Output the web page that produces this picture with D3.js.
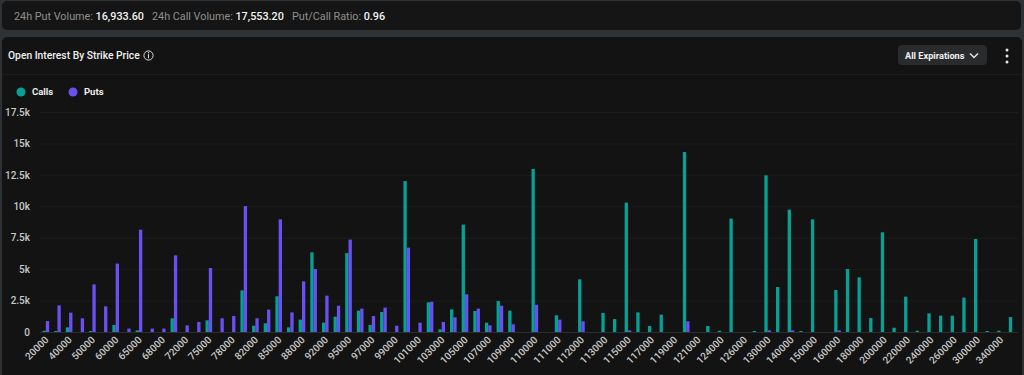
<!DOCTYPE html>
<html>
<head>
<meta charset="utf-8">
<script src="https://cdn.jsdelivr.net/npm/d3@7"></script>
<style>
  body { margin: 0; background: #2f3234; font-family: Roboto, "Open Sans", sans-serif; overflow: hidden; }
  svg text { font-family: Roboto, "Open Sans", sans-serif; }
</style>
</head>
<body>
<svg width="1024" height="375"></svg>
<script>
// strike prices (categories); only every other one gets a label on the axis
let strikes = [20000, 30000, 40000, 45000, 50000, 55000, 60000, 62000, 65000, 66000,
    68000, 70000, 72000, 74000, 75000, 76000, 78000, 80000, 82000, 84000,
    85000, 86000, 88000, 90000, 92000, 94000, 95000, 96000, 97000, 98000,
    99000, 100000, 101000, 102000, 103000, 104000, 105000, 106000, 107000, 108000,
    109000, 109500, 110000, 110500, 111000, 111500, 112000, 112500, 113000, 114000,
    115000, 116000, 117000, 118000, 119000, 120000, 121000, 122000, 124000, 125000,
    126000, 128000, 130000, 135000, 140000, 145000, 150000, 155000, 160000, 170000,
    180000, 190000, 200000, 210000, 220000, 230000, 240000, 250000, 260000, 280000,
    300000, 320000, 340000, 400000];

let calls = [100, 80, 370, 0, 80, 0, 560, 0, 130, 0,
    0, 1090, 0, 0, 930, 0, 0, 3310, 500, 690,
    2840, 370, 980, 6340, 740, 1220, 6280, 1700, 560, 1590,
    0, 12010, 0, 2360, 210, 1800, 8540, 1670, 740, 2470,
    1700, 0, 12970, 0, 1330, 0, 4190, 0, 1510, 1030,
    10290, 1560, 480, 1380, 0, 14320, 0, 480, 100, 9020,
    0, 80, 12460, 3580, 9730, 80, 8960, 0, 3340, 5010,
    4350, 1110, 7930, 340, 2810, 100, 1480, 1300, 1300, 2730,
    7400, 80, 100, 1190];

let puts = [870, 2120, 1540, 1090, 3790, 2040, 5440, 270, 8140, 270,
    270, 6100, 530, 800, 5090, 1090, 1270, 10020, 1090, 1780,
    8960, 1560, 4030, 5010, 2890, 2090, 7350, 1860, 1270, 1940,
    500, 6710, 740, 2410, 800, 1170, 3000, 1860, 530, 2090,
    610, 0, 2170, 0, 980, 0, 850, 0, 0, 0,
    130, 0, 0, 0, 0, 850, 0, 0, 0, 0,
    0, 0, 130, 0, 130, 0, 0, 0, 130, 0,
    0, 0, 0, 0, 0, 0, 0, 0, 0, 0,
    0, 0, 0, 0];

let yTicks = [0, 2500, 5000, 7500, 10000, 12500, 15000, 17500];
let yTickLabels = ["0", "2.5k", "5k", "7.5k", "10k", "12.5k", "15k", "17.5k"];

let series = ["Calls", "Puts"];
let colors = {Calls: "#06a096", Puts: "#6b4ff2"};

let stats = [
    {label: "24h Put Volume:", value: "16,933.60"},
    {label: "24h Call Volume:", value: "17,553.20"},
    {label: "Put/Call Ratio:", value: "0.96"}
];
let statX = [14, 152, 292];

let svg = d3.select("svg");

// panels
svg.append("rect")
    .attr("x", 2).attr("y", 1).attr("width", 1019).attr("height", 29)
    .attr("rx", 5).attr("fill", "#151515");
svg.append("rect")
    .attr("x", 2).attr("y", 37).attr("width", 1020).attr("height", 345)
    .attr("rx", 5).attr("fill", "#131313");
svg.append("line")
    .attr("x1", 2).attr("x2", 1022).attr("y1", 74.5).attr("y2", 74.5)
    .attr("stroke", "#1d1d1d");

// top stats line
stats.forEach((s, i) => {
    let t = svg.append("text")
        .attr("x", statX[i]).attr("y", 20)
        .attr("font-size", 10.8);
    t.append("tspan")
        .attr("fill", "#8f8f8f")
        .text(s.label + " ");
    t.append("tspan")
        .attr("fill", "#f2f2f2")
        .attr("font-weight", 500)
        .text(s.value);
});

// header
svg.append("text")
    .attr("x", 8).attr("y", 59)
    .attr("font-size", 10.3).attr("font-weight", 500)
    .attr("fill", "#f0f0f0")
    .text("Open Interest By Strike Price");
svg.append("circle")
    .attr("cx", 148.5).attr("cy", 55.5).attr("r", 4.6)
    .attr("fill", "none").attr("stroke", "#d8d8d8").attr("stroke-width", 1);
svg.append("line")
    .attr("x1", 148.5).attr("x2", 148.5).attr("y1", 54.2).attr("y2", 58.3)
    .attr("stroke", "#d8d8d8").attr("stroke-width", 1.1);
svg.append("circle")
    .attr("cx", 148.5).attr("cy", 52.8).attr("r", 0.7).attr("fill", "#d8d8d8");

// expirations button
let btn = svg.append("g").attr("transform", "translate(898,45)");
btn.append("rect")
    .attr("width", 89).attr("height", 20).attr("rx", 4)
    .attr("fill", "#2a2b2d");
btn.append("text")
    .attr("x", 7).attr("y", 13.8)
    .attr("font-size", 9.2).attr("font-weight", 700)
    .attr("fill", "#f0f0f0")
    .text("All Expirations");
btn.append("path")
    .attr("d", "M72,8.5 L76,12.5 L80,8.5")
    .attr("fill", "none").attr("stroke", "#e6e6e6").attr("stroke-width", 1.5);
[50, 56, 62].forEach(cy => {
    svg.append("circle").attr("cx", 1007).attr("cy", cy).attr("r", 1.5).attr("fill", "#e6e6e6");
});

// legend
let legend = svg.append("g").attr("transform", "translate(21,92)");
series.forEach((s, i) => {
    let item = legend.append("g").attr("transform", "translate(" + (i * 52) + ",0)");
    item.append("circle").attr("r", 4.5).attr("fill", colors[s]);
    item.append("text")
        .attr("x", 11).attr("dy", "0.35em")
        .attr("font-size", 9.5).attr("font-weight", 700)
        .attr("fill", "#eeeeee")
        .text(s);
});

// chart
let plotLeft = 40, plotRight = 1018, plotTop = 112, plotBottom = 332;

let x = d3.scaleBand()
    .domain(strikes)
    .range([plotLeft, plotRight])
    .paddingInner(0.43)
    .paddingOuter(0.215);

let xSub = d3.scaleBand()
    .domain(series)
    .range([0, x.bandwidth()]);

let y = d3.scaleLinear()
    .domain([0, 17500])
    .range([plotBottom, plotTop]);

let yAxis = d3.axisLeft(y)
    .tickValues(yTicks)
    .tickFormat((d, i) => yTickLabels[i])
    .tickSize(-(plotRight - plotLeft))
    .tickPadding(10);

let gY = svg.append("g")
    .attr("transform", "translate(" + plotLeft + ",0)")
    .call(yAxis);
gY.select(".domain").remove();
gY.selectAll("line").attr("stroke", "#1c1d1d");
gY.selectAll("text")
    .attr("font-size", 10).attr("font-weight", 500)
    .attr("fill", "#c9c9c9");

let groups = svg.append("g")
    .selectAll("g")
    .data(strikes)
    .enter().append("g")
    .attr("transform", d => "translate(" + x(d) + ",0)");

groups.selectAll("rect")
    .data((d, i) => [{key: "Calls", value: calls[i]}, {key: "Puts", value: puts[i]}].filter(b => b.value > 0))
    .enter().append("rect")
    .attr("x", d => xSub(d.key))
    .attr("width", xSub.bandwidth())
    .attr("y", d => Math.min(y(d.value), plotBottom - 1))
    .attr("height", d => Math.max(plotBottom - y(d.value), 1))
    .attr("fill", d => colors[d.key]);

let xAxis = d3.axisBottom(x)
    .tickValues(strikes.filter((d, i) => i % 2 === 0))
    .tickSize(0)
    .tickPadding(7);

let gX = svg.append("g")
    .attr("transform", "translate(0," + plotBottom + ")")
    .call(xAxis);
gX.select(".domain")
    .attr("stroke", "#2c2d2e")
    .attr("d", "M" + plotLeft + ",0.5H" + plotRight);
gX.selectAll(".tick text")
    .attr("font-size", 10).attr("font-weight", 500)
    .attr("fill", "#c9c9c9")
    .attr("text-anchor", "end")
    .attr("x", 0).attr("y", 0).attr("dx", 0).attr("dy", "0.35em")
    .attr("transform", "translate(1,6) rotate(-45)");
</script>
</body>
</html>
